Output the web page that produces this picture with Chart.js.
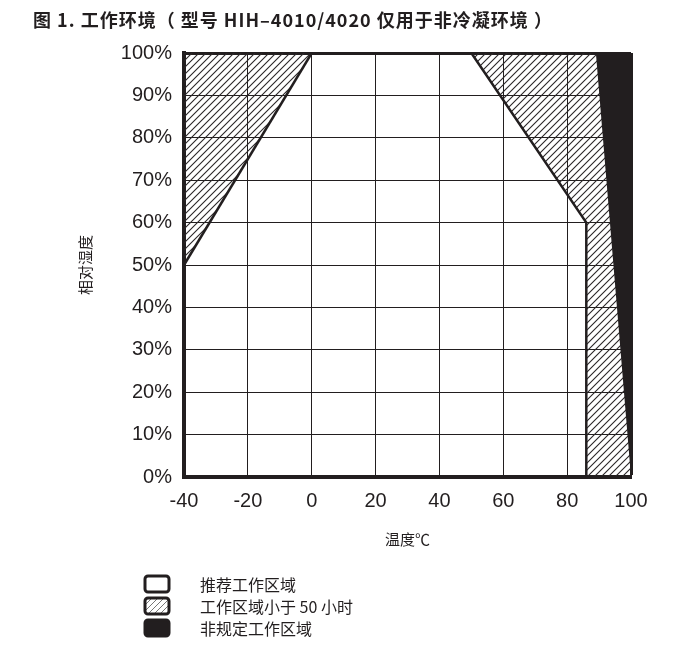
<!DOCTYPE html>
<html>
<head>
<meta charset="utf-8">
<script src="https://cdn.jsdelivr.net/npm/chart.js@4.4.1/dist/chart.umd.min.js"></script>
<style>
html, body { margin: 0; background: #fff; }
#wrap { width: 700px; height: 654px; }
</style>
</head>
<body>
<div id="wrap"><canvas id="envChart"></canvas></div>
<script>
var chartTitle = '图 1. 工作环境（ 型号 HIH–4010/4020 仅用于非冷凝环境 ）';
var xTitle = '温度℃';
var yTitle = '相对湿度';
var tempTicks = [-40, -20, 0, 20, 40, 60, 80, 100];
var rhTicks = [0, 10, 20, 30, 40, 50, 60, 70, 80, 90, 100];

// 工作区域小于50小时 - left triangle (filled up to 100%)
var limLeftT = [-40, 0];
var limLeftRH = [50, 100];
// 工作区域小于50小时 - right side
var limRightT = [50, 86, 86, 100];
var limRightRH = [100, 60, 0, 0];
// 非规定工作区域
var undefT = [89, 100];
var undefRH = [100, 0];

var legendLabels = ['推荐工作区域', '工作区域小于 50 小时', '非规定工作区域'];

var ink = '#221e1f';
var cjk = '"Noto Sans CJK SC", "Noto Sans", sans-serif';

function pts(xs, ys) {
  return xs.map(function (x, i) { return { x: x, y: ys[i] }; });
}

function hatch(ctx, step, color, lw) {
  var c = document.createElement('canvas');
  c.width = step; c.height = step;
  var g = c.getContext('2d');
  g.strokeStyle = color;
  g.lineWidth = lw;
  g.beginPath();
  g.moveTo(0, step); g.lineTo(step, 0);
  g.moveTo(-1, 1); g.lineTo(1, -1);
  g.moveTo(step - 1, step + 1); g.lineTo(step + 1, step - 1);
  g.stroke();
  return ctx.createPattern(c, 'repeat');
}

var canvas = document.getElementById('envChart');
var ctx = canvas.getContext('2d');
var hatchFill = hatch(ctx, 7, '#2a2627', 1.1);
var hatchSmall = hatch(ctx, 6, '#777', 1);

// title with wider tracking, and the legend under the plot
var extras = {
  id: 'extras',
  afterDraw: function (chart) {
    var c = chart.ctx;
    c.save();
    c.fillStyle = ink;
    c.textBaseline = 'middle';
    c.textAlign = 'left';
    c.font = 'bold 18px ' + cjk;
    c.letterSpacing = '1px';
    c.fillText(chartTitle, 33, 20);
    c.letterSpacing = '0px';

    var fills = ['#fff', hatchSmall, ink];
    var rows = [584, 606, 628];
    legendLabels.forEach(function (txt, i) {
      var y = rows[i];
      c.beginPath();
      c.roundRect(145, y - 8, 24, 16, 3);
      c.fillStyle = fills[i];
      c.fill();
      c.lineWidth = 3;
      c.strokeStyle = ink;
      c.stroke();
      c.fillStyle = ink;
      c.font = '16px ' + cjk;
      c.fillText(txt, 200, y + 1);
    });
    c.restore();
  }
};

var chart = new Chart(ctx, {
  type: 'line',
  data: {
    datasets: [{
      label: legendLabels[2],
      data: pts(undefT, undefRH),
      borderWidth: 0,
      backgroundColor: ink,
      fill: 'end',
      pointRadius: 0
    }, {
      label: legendLabels[1],
      data: pts(limLeftT, limLeftRH),
      borderColor: ink,
      borderWidth: 2.5,
      backgroundColor: hatchFill,
      fill: 'end',
      pointRadius: 0
    }, {
      label: legendLabels[1],
      data: pts(limRightT, limRightRH),
      borderColor: ink,
      borderWidth: 2.5,
      backgroundColor: hatchFill,
      fill: 'end',
      pointRadius: 0
    }]
  },
  options: {
    responsive: true,
    maintainAspectRatio: false,
    animation: false,
    layout: { padding: { left: 33, right: 69, top: 53, bottom: 106 } },
    plugins: {
      legend: { display: false },
      tooltip: { enabled: false },
      title: { display: false }
    },
    scales: {
      x: {
        type: 'linear',
        min: -40,
        max: 100,
        afterBuildTicks: function (s) { s.ticks = tempTicks.map(function (v) { return { value: v }; }); },
        afterFit: function (s) { s.height = 71; },
        grid: {
          color: ink,
          lineWidth: function (c) { return c.tick && c.tick.value === 100 ? 3 : 1; },
          drawTicks: false
        },
        border: { color: ink, width: 4 },
        ticks: {
          color: ink,
          padding: 12,
          font: { family: '"Liberation Sans", Arial, sans-serif', size: 20 }
        },
        title: {
          display: true,
          text: xTitle,
          color: ink,
          font: { family: cjk, size: 15 },
          padding: 0
        }
      },
      y: {
        min: 0,
        max: 100,
        afterBuildTicks: function (s) { s.ticks = rhTicks.map(function (v) { return { value: v }; }); },
        afterFit: function (s) { s.width = 151; },
        grid: {
          color: ink,
          lineWidth: function (c) { return c.tick && c.tick.value === 100 ? 3 : 1; },
          drawTicks: false
        },
        border: { color: ink, width: 4 },
        ticks: {
          color: ink,
          padding: 12,
          font: { family: '"Liberation Sans", Arial, sans-serif', size: 20 },
          callback: function (v) { return v + '%'; }
        },
        title: {
          display: true,
          text: yTitle,
          color: ink,
          font: { family: cjk, size: 15 },
          padding: { top: 43, bottom: 0 }
        }
      }
    }
  },
  plugins: [extras]
});
</script>
</body>
</html>
